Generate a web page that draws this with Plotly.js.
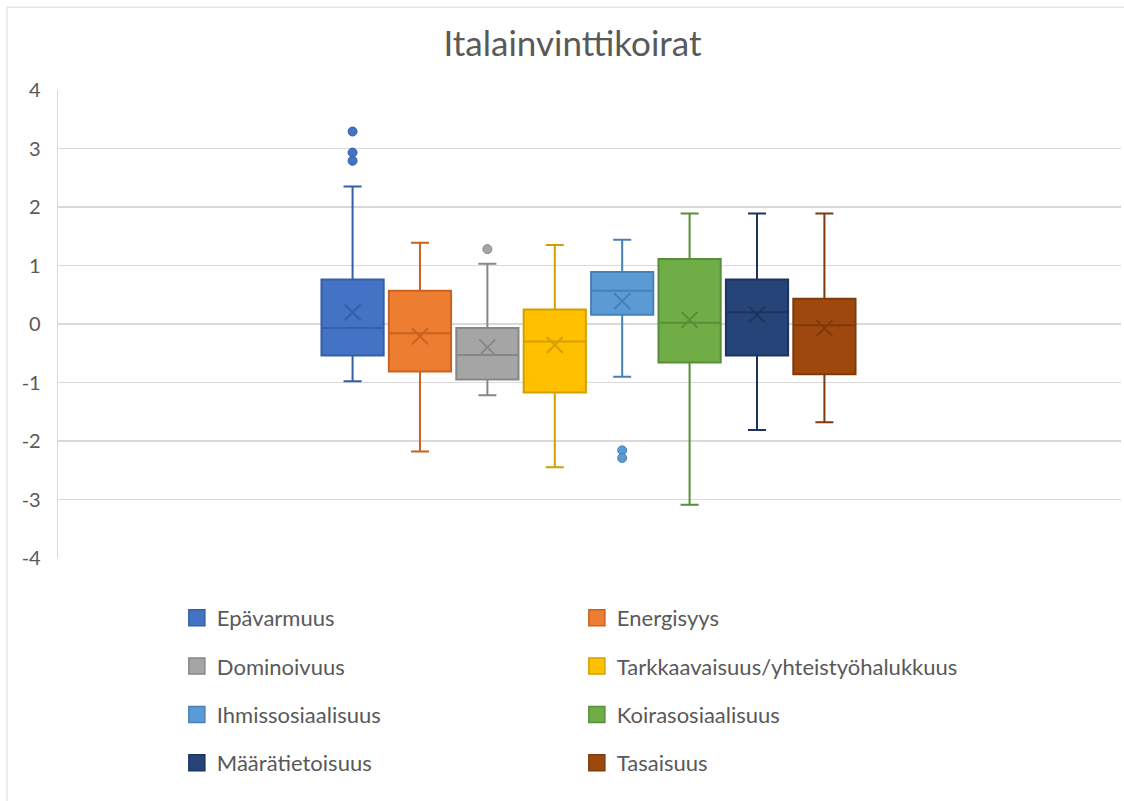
<!DOCTYPE html>
<html>
<head>
<meta charset="utf-8">
<script src="https://cdn.plot.ly/plotly-3.0.1.min.js"></script>
<style>html,body{margin:0;padding:0;background:#fff}#chart{width:1124px;height:801px}</style>
</head>
<body>
<div id="chart"></div>
<script>
// ---- data ----
const seriesNames = ["Epävarmuus","Energisyys","Dominoivuus","Tarkkaavaisuus/yhteistyöhalukkuus",
                     "Ihmissosiaalisuus","Koirasosiaalisuus","Määrätietoisuus","Tasaisuus"];
const lowerWhisker = [-0.98, -2.18, -1.22, -2.45, -0.90, -3.09, -1.81, -1.68];
const q1Values     = [-0.54, -0.81, -0.95, -1.17,  0.16, -0.66, -0.54, -0.86];
const medianValues = [-0.07, -0.16, -0.53, -0.30,  0.57,  0.02,  0.20, -0.02];
const q3Values     = [ 0.76,  0.57, -0.07,  0.25,  0.89,  1.11,  0.76,  0.43];
const upperWhisker = [ 2.35,  1.39,  1.03,  1.35,  1.44,  1.89,  1.89,  1.89];
const meanValues   = [ 0.20, -0.21, -0.40, -0.36,  0.39,  0.07,  0.16, -0.07];
const outlierValues = [[3.29, 2.93, 2.79], [], [1.28], [], [-2.16, -2.29], [], [], []];
const yTicks = [-4, -3, -2, -1, 0, 1, 2, 3, 4];

// ---- styles ----
const fillColors = ["#4472C4","#ED7D31","#A5A5A5","#FFC000","#5B9BD5","#70AD47","#264478","#9E480E"];
const lineColors = ["#355FA8","#C9631F","#878787","#D4A000","#4680B8","#578E37","#1C355E","#7E3A0C"];
const FONT = "Lato, 'Open Sans', 'Liberation Sans', sans-serif";

const traces = [];
seriesNames.forEach((name, i) => {
  traces.push({
    type: "box", name: name, x: [name],
    q1: [q1Values[i]], median: [medianValues[i]], q3: [q3Values[i]],
    lowerfence: [lowerWhisker[i]], upperfence: [upperWhisker[i]],
    fillcolor: fillColors[i], line: {color: lineColors[i], width: 2},
    whiskerwidth: 0.29, boxpoints: false, showlegend: false, hoverinfo: "y"
  });
  if (outlierValues[i].length) {
    traces.push({
      type: "scatter", mode: "markers", name: name + " poikkeamat",
      x: outlierValues[i].map(() => name), y: outlierValues[i],
      marker: {color: fillColors[i], size: 9, line: {color: lineColors[i], width: 1}},
      showlegend: false, hoverinfo: "y"
    });
  }
  traces.push({
    type: "scatter", mode: "markers", name: name + " keskiarvo",
    x: [name], y: [meanValues[i]],
    marker: {symbol: "x-thin-open", size: 16, color: lineColors[i], line: {color: lineColors[i], width: 2}},
    showlegend: false, hoverinfo: "y"
  });
});

// legend entries (2 columns x 4 rows, like the reference)
const legendRowsY = [-0.128, -0.231, -0.335, -0.438];
seriesNames.forEach((name, i) => {
  const row = Math.floor(i / 2);
  traces.push({
    type: "scatter", mode: "markers", name: name, x: [null], y: [null],
    marker: {symbol: "square", size: 18, color: fillColors[i], line: {color: lineColors[i], width: 1.5}},
    showlegend: true, legend: row === 0 ? "legend" : "legend" + (row + 1), hoverinfo: "skip"
  });
});

function legendAt(y) {
  return {orientation: "h", x: 0.1118, xanchor: "left", y: y, yanchor: "middle",
          entrywidth: 355, entrywidthmode: "pixels", itemsizing: "trace",
          font: {family: FONT, size: 22, color: "#595959"}, bgcolor: "rgba(0,0,0,0)", borderwidth: 0};
}

const layout = {
  width: 1124, height: 801,
  margin: {l: 58, r: 3, t: 90, b: 243, pad: 0},
  paper_bgcolor: "#fff", plot_bgcolor: "#fff",
  font: {family: FONT, color: "#595959"},
  title: {text: "Italainvinttikoirat", font: {family: FONT, size: 35, color: "#595959"},
          xref: "paper", x: 0.484, xanchor: "center", yref: "container", y: 0.945, yanchor: "middle"},
  xaxis: {type: "category", categoryorder: "array", categoryarray: seriesNames,
          range: [-4.37, 11.40], showticklabels: false, showgrid: false, zeroline: false,
          showline: false, ticks: "", fixedrange: true},
  yaxis: {range: [-4, 4], tickvals: yTicks, ticktext: yTicks.map(String),
          showgrid: true, gridcolor: "#D9D9D9", gridwidth: 1.3, zeroline: false,
          showline: true, linecolor: "#D9D9D9", linewidth: 1.3, ticks: "",
          tickfont: {family: FONT, size: 20, color: "#595959"}, ticklabelstandoff: 12, fixedrange: true},
  boxmode: "overlay", boxgap: 0.077, boxgroupgap: 0,
  legend: legendAt(legendRowsY[0]),
  legend2: legendAt(legendRowsY[1]),
  legend3: legendAt(legendRowsY[2]),
  legend4: legendAt(legendRowsY[3]),
  shapes: [{type: "rect", xref: "paper", yref: "paper", x0: -0.048, x1: 1.2, y0: -0.7, y1: 1.177,
            line: {color: "#D9D9D9", width: 1}, fillcolor: "rgba(0,0,0,0)", layer: "below"}],
  showlegend: true
};

Plotly.newPlot("chart", traces, layout, {displayModeBar: false, staticPlot: true});
</script>
</body>
</html>
